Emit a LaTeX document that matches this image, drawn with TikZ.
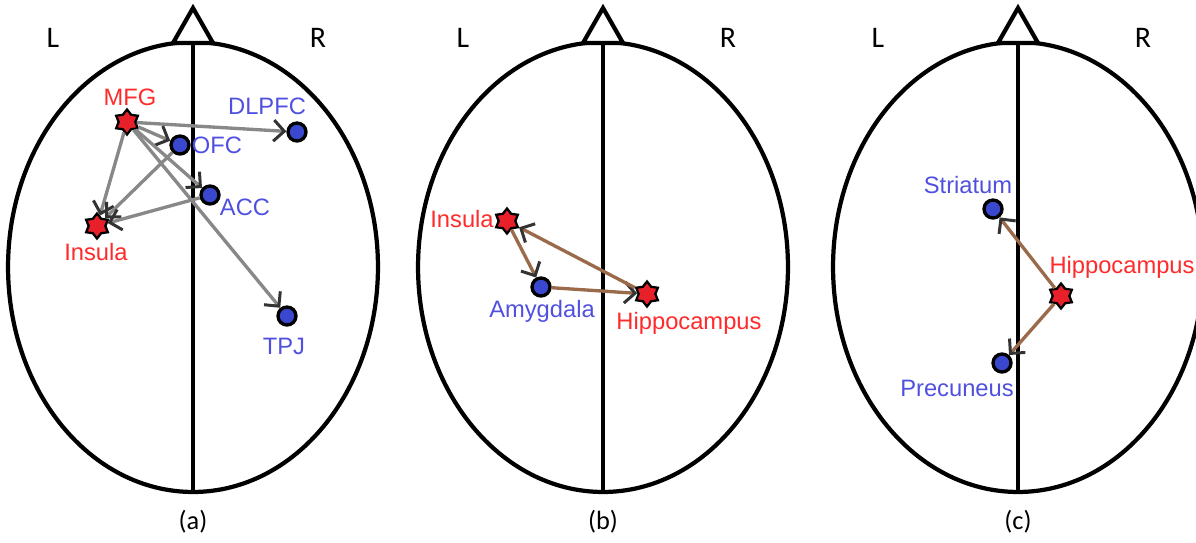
\documentclass[tikz,border=0pt]{standalone}
\usepackage{fontspec}
\setmainfont{Liberation Sans}
\newfontfamily\capfont{Carlito}
\usetikzlibrary{positioning, calc, arrows.meta, shapes.geometric}

\definecolor{roiblue}{HTML}{3A48D0}
\definecolor{lblblue}{HTML}{5050E0}
\definecolor{lblred}{HTML}{FF2A2A}
\definecolor{hubred}{HTML}{E8202A}
\definecolor{linkgray}{HTML}{888888}
\definecolor{linkbrown}{HTML}{9A6A4A}
\definecolor{tipgray}{HTML}{333333}

\tikzset{
  roi/.style={circle, draw=black, line width=1.9pt, fill=roiblue, inner sep=0pt, minimum size=0.36cm},
  hub/.style={star, star points=6, star point ratio=1.5, draw=black, line width=1.3pt, fill=hubred, inner sep=0pt, minimum size=0.5cm},
  bluelbl/.style={text=lblblue, inner sep=0pt, font=\fontsize{13.5}{13.5}\selectfont},
  redlbl/.style={text=lblred, inner sep=0pt, font=\fontsize{13.5}{13.5}\selectfont},
  link/.style={line width=1.9pt, -{Straight Barb[length=6pt, width=12pt, line width=1.7pt, color=tipgray]}},
  head/.style={line width=2.4pt},
}

\begin{document}
\begin{tikzpicture}[x=0.02cm, y=-0.02cm]
    \useasboundingbox (0,0) rectangle (1196,542);

    % Head outlines with nose, midline and sides
    \foreach \cx/\tag in {193/a, 603/b, 1018/c} {
        \draw[head] (\cx,267) ellipse [x radius=3.7cm, y radius=4.5cm];
        \draw[head] (\cx,43) -- (\cx,493);
        \draw[head, fill=white] (\cx-20,43) -- (\cx,8) -- (\cx+20,43) -- cycle;
        \node[font=\capfont\fontsize{17}{17}\selectfont] (L-\tag) at (\cx-140,38) {L};
        \node[font=\capfont\fontsize{17}{17}\selectfont] (R-\tag) at (\cx+125,38) {R};
        \node[font=\capfont\fontsize{15}{15}\selectfont] (cap-\tag) at (\cx,522) {(\tag)};
    }

    % (a) regions
    \node[hub] (mfg) at (127,122) {};
    \node[roi] (ofc) at (180,145) {};
    \node[roi] (dlpfc) at (297,132) {};
    \node[roi] (acc) at (210,195) {};
    \node[hub] (insA) at (97,226) {};
    \node[roi] (tpj) at (287,316) {};
    \node[redlbl] (mfg-l) at (130,97) {MFG};
    \node[bluelbl] (ofc-l) at (217,145) {OFC};
    \node[bluelbl] (dlpfc-l) at (267,106) {DLPFC};
    \node[bluelbl] (acc-l) at (245,207) {ACC};
    \node[redlbl] (insA-l) at (96,252) {Insula};
    \node[bluelbl] (tpj-l) at (284,346) {TPJ};

    % (a) connections
    \begin{scope}[link, linkgray]
        \draw (mfg) -- (dlpfc);
        \draw (mfg) -- (ofc);
        \draw (mfg) -- (acc);
        \draw (mfg) -- (tpj);
        \draw (mfg) -- (insA);
        \draw (ofc) -- (insA);
        \draw (acc) -- (insA);
    \end{scope}

    % (b) regions
    \node[hub] (insB) at (507,221) {};
    \node[roi] (amyg) at (541,287) {};
    \node[hub] (hipB) at (647,294) {};
    \node[redlbl] (insB-l) at (462,219) {Insula};
    \node[bluelbl] (amyg-l) at (542,311) {Amygdala};
    \node[redlbl] (hipB-l) at (689,323) {Hippocampus};

    % (b) connections
    \begin{scope}[link, linkbrown]
        \draw (insB) -- (amyg);
        \draw (amyg) -- (hipB);
        \draw (hipB) -- (insB);
    \end{scope}

    % (c) regions
    \node[roi] (stri) at (993,209) {};
    \node[hub] (hipC) at (1061,296) {};
    \node[roi] (prec) at (1002,363) {};
    \node[bluelbl] (stri-l) at (968,185) {Striatum};
    \node[redlbl] (hipC-l) at (1122,267) {Hippocampus};
    \node[bluelbl] (prec-l) at (957,388) {Precuneus};

    % (c) connections
    \begin{scope}[link, linkbrown]
        \draw (hipC) -- (stri);
        \draw (hipC) -- (prec);
    \end{scope}

\end{tikzpicture}
\end{document}
